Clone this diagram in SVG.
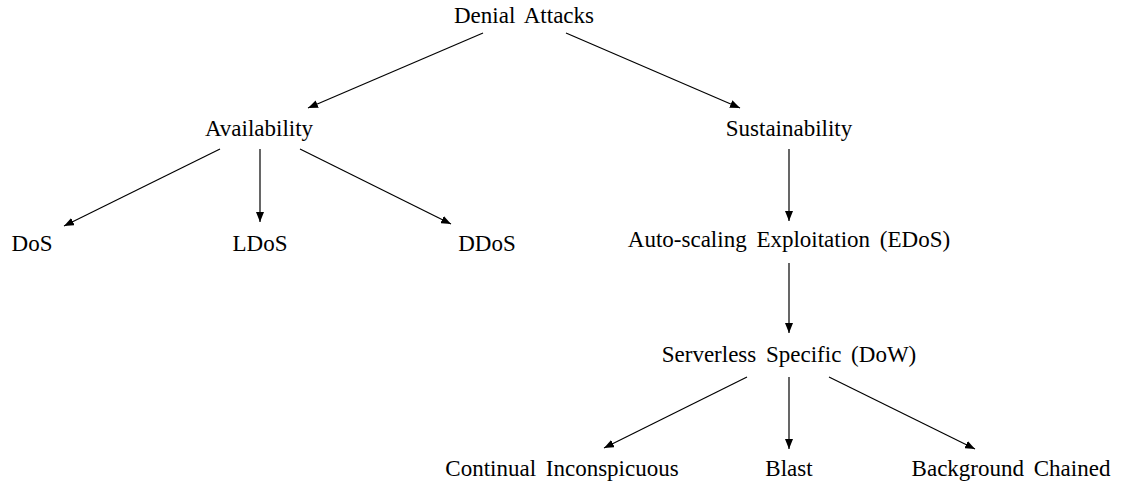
<svg xmlns="http://www.w3.org/2000/svg" width="1124" height="482" viewBox="0 0 1124 482">
<style>
.t{font-family:"Liberation Serif","Times New Roman",serif;font-size:23px;fill:#000;text-anchor:middle;word-spacing:4px}
.c{stroke:#000;stroke-width:1.2;fill:none;marker-end:url(#ah)}
</style>
<defs>
<marker id="ah" viewBox="0 0 10 8" refX="10" refY="4" markerWidth="10" markerHeight="8" markerUnits="userSpaceOnUse" orient="auto">
<path d="M0,0 L10,4 L0,8 z" fill="#000"/>
</marker>
</defs>
<rect width="1124" height="482" fill="#fff"/>
<g id="connectors">
<line class="c" x1="483" y1="33" x2="308" y2="108"/>
<line class="c" x1="566" y1="33" x2="740" y2="108"/>
<line class="c" x1="220" y1="149" x2="64" y2="226"/>
<line class="c" x1="260" y1="149" x2="260" y2="222"/>
<line class="c" x1="300" y1="149" x2="451" y2="224"/>
<line class="c" x1="789" y1="149" x2="789" y2="221"/>
<line class="c" x1="789" y1="263" x2="789" y2="333"/>
<line class="c" x1="747" y1="377" x2="604" y2="448"/>
<line class="c" x1="789" y1="377" x2="789" y2="449"/>
<line class="c" x1="829" y1="377" x2="975" y2="449"/>
</g>
<g id="denial"><text class="t" x="524" y="23">Denial Attacks</text></g>
<g id="availability"><text class="t" x="259" y="136">Availability</text></g>
<g id="sustainability"><text class="t" x="789" y="136">Sustainability</text></g>
<g id="dos"><text class="t" x="32" y="251">DoS</text></g>
<g id="ldos"><text class="t" x="260" y="251">LDoS</text></g>
<g id="ddos"><text class="t" x="487" y="251">DDoS</text></g>
<g id="edos"><text class="t" x="789" y="247">Auto-scaling Exploitation (EDoS)</text></g>
<g id="dow"><text class="t" x="789" y="362">Serverless Specific (DoW)</text></g>
<g id="continual"><text class="t" x="562" y="476">Continual Inconspicuous</text></g>
<g id="blast"><text class="t" x="789" y="476">Blast</text></g>
<g id="background"><text class="t" x="1011" y="476">Background Chained</text></g>
</svg>
